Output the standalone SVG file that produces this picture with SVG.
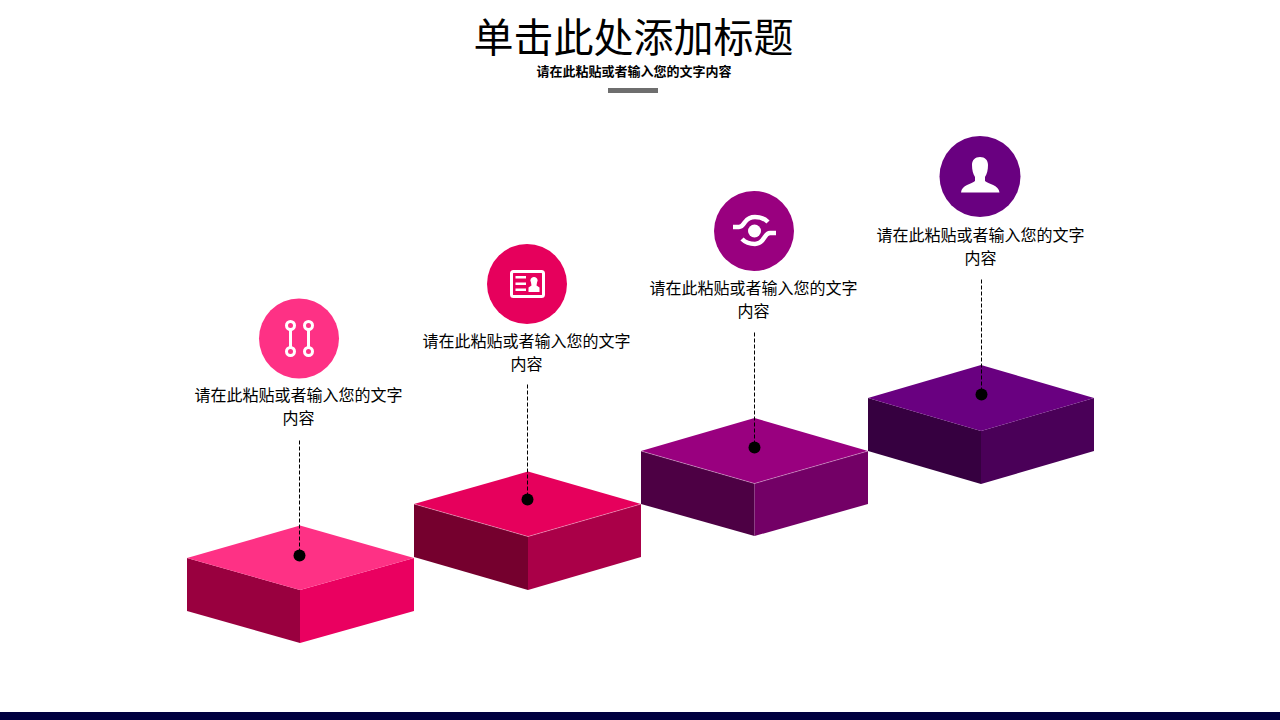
<svg xmlns="http://www.w3.org/2000/svg" width="1280" height="720" viewBox="0 0 1280 720">
<style>
text{font-family:"Noto Sans CJK SC","Noto Sans",sans-serif;text-anchor:middle;fill:#000}
.title{font-size:40px;font-weight:400}
.sub{font-size:13px;font-weight:700}
.body{font-size:16px;font-weight:400}
.lead{stroke:#000;stroke-width:1;stroke-dasharray:4 2;fill:none}
.ic{fill:#fff}
.ics{stroke:#fff;fill:none}
.edge{fill:none;stroke:#fff;stroke-width:.6;stroke-opacity:.55}
</style>
<rect width="1280" height="720" fill="#fff"/>
<rect y="712" width="1280" height="8" fill="#000040"/>
<g id="header">
<text class="title" x="633.500" y="52">单击此处添加标题</text>
<text class="sub" x="634" y="76">请在此粘贴或者输入您的文字内容</text>
<rect x="608" y="88" width="50" height="5" fill="#6e6e6e"/>
</g>
<g id="step1">
<polygon points="187,558 300,590 300,643 187,611" fill="#99003f"/>
<polygon points="300,590 414,558 414,611 300,643" fill="#ea0060"/>
<polygon points="187,558 300,525.500 414,558 300,590" fill="#fe3185"/>
<circle cx="299" cy="338.500" r="40" fill="#fe3185"/>
<g class="ics" stroke-width="3"><circle cx="290.500" cy="325.500" r="4"/><circle cx="308.500" cy="325.500" r="4"/><circle cx="290.500" cy="351.500" r="4"/><circle cx="308.500" cy="351.500" r="4"/><path d="M290.500 329.500V347.500M308.500 329.500V347.500"/></g>
<text class="body" x="298.500" y="401">请在此粘贴或者输入您的文字</text>
<text class="body" x="298.500" y="424">内容</text>
</g>
<g id="step2">
<polygon points="414,504 528,536.500 528,590 414,557" fill="#75002e"/>
<polygon points="528,536.500 641,504 641,557 528,590" fill="#aa0048"/>
<polygon points="414,504 528,471.500 641,504 528,536.500" fill="#e6005c"/>
<path class="edge" d="M414 504L528 536.500L641 504"/>
<circle cx="527" cy="284" r="40" fill="#e6005c"/>
<rect x="511.500" y="271.500" width="32" height="25" rx="2" class="ics" stroke-width="3"/>
<path class="ic" d="M515.500 276h10.500v2.500h-10.500zM515.500 282.500h10.500v2.500h-10.500zM515.500 288.500h10.500v2.500h-10.500zM534 277a3.500 3.500 0 0 1 3 5.500l-.5 3 3 2v4.500h-11v-4.500l3-2-.5-3a3.500 3.500 0 0 1 3-5.500z"/>
<text class="body" x="526.500" y="347">请在此粘贴或者输入您的文字</text>
<text class="body" x="526.500" y="370">内容</text>
</g>
<g id="step3">
<polygon points="641,451 754.500,483.500 754.500,536 641,504" fill="#4d0044"/>
<polygon points="754.500,483.500 868,451 868,504 754.500,536" fill="#730066"/>
<polygon points="641,451 754.500,418 868,451 754.500,483.500" fill="#99007f"/>
<path class="edge" d="M641 451L754.500 483.500L868 451"/>
<circle cx="754" cy="231" r="40" fill="#99007f"/>
<circle cx="754.500" cy="231" r="6.500" class="ic"/>
<path class="ics" stroke-width="4.500" d="M733 227H739C742 227 743 225 745 222C748 218 752 217 755 217C760 217 765 219 768 222M776 233H770C767 233 766 235 764 238C761 243 758 244 755 244C750 244 745 242 742 239"/>
<text class="body" x="753.500" y="294">请在此粘贴或者输入您的文字</text>
<text class="body" x="753.500" y="317">内容</text>
</g>
<g id="step4">
<polygon points="868,398 981,431 981,484 868,451" fill="#360040"/>
<polygon points="981,431 1094,398 1094,451 981,484" fill="#4a0058"/>
<polygon points="868,398 981,365 1094,398 981,431" fill="#690080"/>
<circle cx="980" cy="176.500" r="40.500" fill="#690080"/>
<path class="ic" d="M980 157C985 157 988 160 988 165C988 170 987 174 985 177V181C988 184 999 185 999.500 192.500H961C961.500 185 972 184 975 181V177C973 174 972 170 972 165C972 160 975 157 980 157Z"/>
<text class="body" x="980.500" y="241">请在此粘贴或者输入您的文字</text>
<text class="body" x="980.500" y="264">内容</text>
</g>
<g id="connectors">
<path class="lead" d="M299.500 440.500V555"/><circle cx="299.500" cy="555.500" r="6"/>
<path class="lead" d="M527.500 384.500V499"/><circle cx="527.500" cy="499.500" r="6"/>
<path class="lead" d="M754.500 332.500V447"/><circle cx="754.500" cy="447.500" r="6"/>
<path class="lead" d="M981.500 279.500V394"/><circle cx="981.500" cy="394.500" r="6"/>
</g>
</svg>
